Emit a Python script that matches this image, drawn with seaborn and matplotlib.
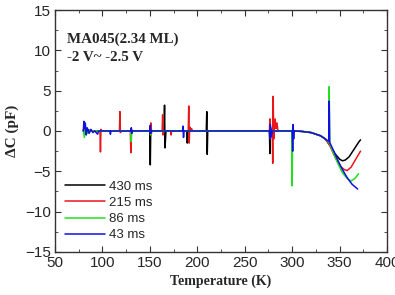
import seaborn as sns
import matplotlib.pyplot as plt
import pandas as pd
from matplotlib.ticker import MultipleLocator

# datos (Temperatura en K, Delta C en pF)
t_430 = [80, 81, 82, 84, 88, 150, 150.5, 151, 152, 165, 165.5, 166, 167, 189, 189.5, 190,
         209.5, 210, 210.5, 211, 276, 276.5, 277, 278, 300, 310, 320, 330, 335, 340, 345,
         350, 353, 356, 360, 365, 370, 372]
c_430 = [0, 0.8, -0.3, 0.2, 0, 0, -4.2, 0.5, 0, 0, 3.2, -2.1, 0, 0, -1.5, 0,
         0, 2.4, -2.9, 0, 0, -2.8, 0.5, 0, 0, -0.05, -0.2, -0.6, -1.0, -1.8, -2.8,
         -3.5, -3.7, -3.6, -3.2, -2.3, -1.4, -1.1]

t_215 = [80, 81, 82, 85, 97.5, 98, 98.5, 99, 118, 118.5, 119, 120, 129.5, 130, 130.5, 131,
         150.5, 151, 151.5, 152, 163, 163.5, 164, 165, 172, 172.5, 173, 190.5, 191, 191.5,
         192, 193, 194, 195, 276, 276.5, 277, 277.5, 279, 279.5, 280, 280.5, 281, 282, 283,
         284, 285, 300, 301, 302, 310, 320, 330, 335, 340, 345, 350, 355, 358, 362, 367, 372]
c_215 = [0, 0.6, -0.2, 0, 0, -2.6, 0.2, 0, 0, 2.4, -0.2, 0, 0, -2.7, 0.3, 0,
         0, 1.0, -0.5, 0, 0, 2.0, -0.5, 0, 0, -0.5, 0, 0, 3.1, -1.5,
         0.5, 0, 0.3, 0, 0, 1.5, -1.0, 0, 0, -4.0, 4.3, -1.0, 0, 1.5, 0.3,
         1.0, 0, 0, -0.3, 0, -0.05, -0.2, -0.6, -1.0, -1.9, -3.2, -4.3, -4.8, -4.9, -4.5, -3.5, -2.5]

t_86 = [80, 81, 82, 84, 86, 130, 130.5, 131, 150.5, 151, 151.5, 299.5, 300, 300.5, 301,
        310, 320, 330, 335, 338.5, 339, 339.5, 343, 348, 353, 358, 362, 366, 370]
c_86 = [0, -0.8, 0.3, -0.3, 0, 0, -1.3, 0, 0, -0.5, 0, 0, -6.8, 0.3, 0,
        -0.05, -0.2, -0.6, -1.0, -1.4, 5.5, -1.6, -2.6, -4.0, -5.2, -5.9, -6.2, -5.9, -5.3]

t_43 = [80, 80.5, 81, 82, 83, 84, 86, 88, 90, 92, 95, 96, 108, 108.5, 109, 130, 130.5, 131,
        132, 150, 150.5, 151, 152, 184.5, 185, 185.5, 186, 276, 276.5, 277, 278, 279, 300,
        300.5, 301, 301.5, 302, 310, 320, 330, 335, 338.5, 339, 339.5, 343, 348, 353, 358,
        363, 369]
c_43 = [0, 1.2, 0.3, 1.0, -0.5, 0.4, -0.3, 0.2, -0.2, 0, -0.4, 0, 0, -0.4, 0, 0, 0.4, -0.3,
        0, 0, 0.7, -0.3, 0, 0, 0.6, -0.8, 0, 0, -1.0, 0.8, -0.7, 0, 0,
        -2.5, 0.8, -1.0, 0, -0.05, -0.2, -0.6, -1.0, -1.3, 3.7, -1.4, -2.3, -3.6, -4.8, -5.8,
        -6.6, -7.2]

etiquetas = ['430 ms', '215 ms', '86 ms', '43 ms']
colores = ['black', '#e8161b', '#22e01c', '#1010e0']

tablas = []
for et, t, c in zip(etiquetas, [t_430, t_215, t_86, t_43], [c_430, c_215, c_86, c_43]):
    tablas.append(pd.DataFrame({'T': t, 'C': c, 'serie': et}))
datos = pd.concat(tablas, ignore_index=True)

sns.set_style('ticks')
plt.rcParams['font.family'] = ['Liberation Sans', 'DejaVu Sans']

fig = plt.figure(figsize=(3.95, 2.95), dpi=100)
ax = fig.add_axes([0.139, 0.146, 0.841, 0.82])

sns.lineplot(data=datos, x='T', y='C', hue='serie', palette=colores,
             hue_order=etiquetas, sort=False, estimator=None, lw=1.1, ax=ax)

ax.set_xlim(50, 400)
ax.set_ylim(-15, 15)
ax.xaxis.set_major_locator(MultipleLocator(50))
ax.xaxis.set_minor_locator(MultipleLocator(25))
ax.yaxis.set_major_locator(MultipleLocator(5))
ax.yaxis.set_minor_locator(MultipleLocator(2.5))
ax.tick_params(which='both', direction='in', top=True, right=True, labelsize=11,
               color='#333333', pad=3)
ax.tick_params(which='major', length=4)
ax.tick_params(which='minor', length=2)
for s in ax.spines.values():
    s.set_color('#333333')
    s.set_linewidth(1)

ax.set_xlabel('Temperature (K)', fontfamily='Liberation Serif', fontweight='bold', fontsize=10,
              labelpad=3)
ax.set_ylabel('ΔC (pF)', fontfamily='Liberation Serif', fontweight='bold', fontsize=11,
              labelpad=4)

ax.text(0.035, 0.88, 'MA045(2.34 ML)', transform=ax.transAxes, fontfamily='Liberation Serif',
        fontweight='bold', fontsize=10.8, va='center')
ax.text(0.035, 0.83, '-2 V~ -2.5 V', transform=ax.transAxes, fontfamily='Liberation Serif',
        fontweight='bold', fontsize=10.8, va='top')

ax.legend(loc='lower left', frameon=False, fontsize=9.5, handlelength=3.0,
          handletextpad=0.3, labelspacing=0.3, borderaxespad=0.4)

plt.savefig('out.png', dpi=100)
